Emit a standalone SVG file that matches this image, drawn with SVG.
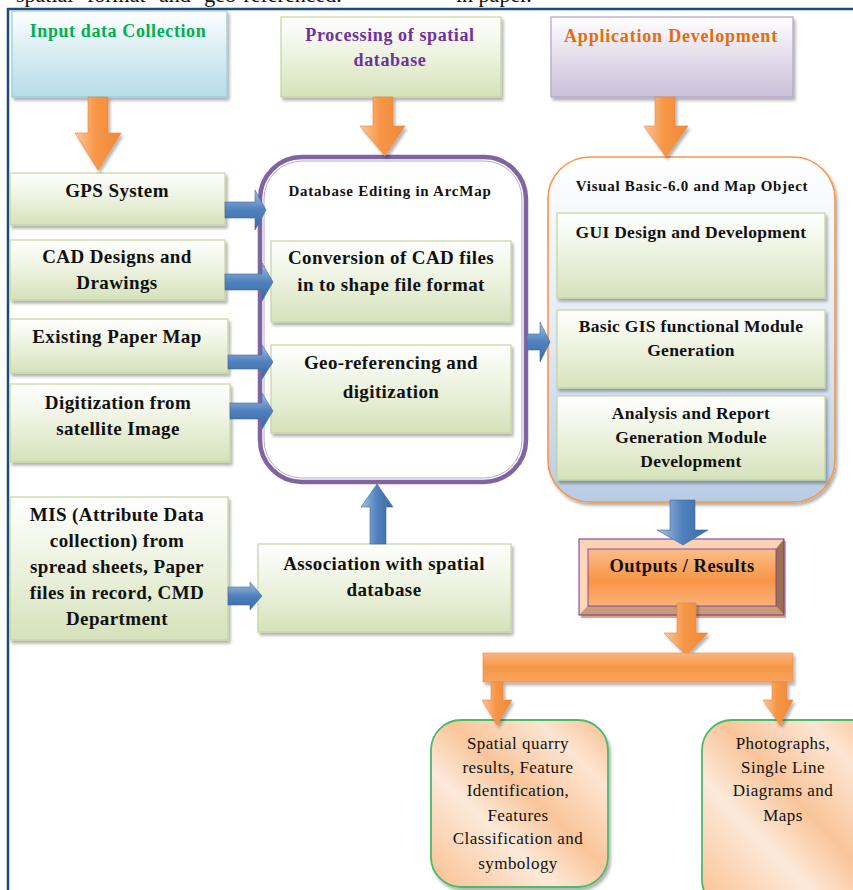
<svg xmlns="http://www.w3.org/2000/svg" width="853" height="890" viewBox="0 0 853 890">
<defs>
<linearGradient id="gGreen" x1="0" y1="0" x2="0" y2="1">
<stop offset="0" stop-color="#ffffff"/><stop offset="0.45" stop-color="#eef3e1"/><stop offset="1" stop-color="#d5e2bb"/>
</linearGradient>
<linearGradient id="gBlueHead" x1="0" y1="0" x2="0" y2="1">
<stop offset="0" stop-color="#ffffff"/><stop offset="0.45" stop-color="#dbeef4"/><stop offset="1" stop-color="#b6dde8"/>
</linearGradient>
<linearGradient id="gLav" x1="0" y1="0" x2="0" y2="1">
<stop offset="0" stop-color="#ffffff"/><stop offset="0.45" stop-color="#e6e0ec"/><stop offset="1" stop-color="#cbbfd9"/>
</linearGradient>
<linearGradient id="gApp" x1="0" y1="0" x2="0" y2="1">
<stop offset="0" stop-color="#ffffff"/><stop offset="0.5" stop-color="#e3ebf5"/><stop offset="1" stop-color="#b8cce4"/>
</linearGradient>
<linearGradient id="gBlueArr" x1="0" y1="0" x2="0" y2="1">
<stop offset="0" stop-color="#a7c0e0"/><stop offset="0.5" stop-color="#4f81bd"/><stop offset="1" stop-color="#3a6aa5"/>
</linearGradient>
<linearGradient id="gBlueArrV" x1="0" y1="0" x2="1" y2="0">
<stop offset="0" stop-color="#a7c0e0"/><stop offset="0.5" stop-color="#4f81bd"/><stop offset="1" stop-color="#3a6aa5"/>
</linearGradient>
<linearGradient id="gOrArr" x1="0" y1="0" x2="1" y2="0">
<stop offset="0" stop-color="#fbc89a"/><stop offset="0.45" stop-color="#f79646"/><stop offset="1" stop-color="#f0893a"/>
</linearGradient>
<linearGradient id="gBar" x1="0" y1="0" x2="0" y2="1">
<stop offset="0" stop-color="#fbb57e"/><stop offset="0.5" stop-color="#f79646"/><stop offset="1" stop-color="#f8a462"/>
</linearGradient>
<linearGradient id="gFace" x1="0" y1="0" x2="0" y2="1">
<stop offset="0" stop-color="#fbbd8a"/><stop offset="0.55" stop-color="#f79646"/><stop offset="1" stop-color="#f9b27a"/>
</linearGradient>
<linearGradient id="gOut" x1="0" y1="1" x2="1" y2="0">
<stop offset="0" stop-color="#fac090"/><stop offset="0.35" stop-color="#fde9d9"/><stop offset="0.55" stop-color="#f9c59a"/><stop offset="0.8" stop-color="#fde5d2"/><stop offset="1" stop-color="#f9bf8f"/>
</linearGradient>
<filter id="sh" x="-10%" y="-10%" width="130%" height="130%">
<feDropShadow dx="2" dy="3" stdDeviation="1.5" flood-color="#000" flood-opacity="0.3"/>
</filter>
</defs>
<style>
.b{font-family:"Liberation Serif",serif;font-weight:bold;text-anchor:middle;fill:#111}
.r{font-family:"Liberation Serif",serif;text-anchor:middle;fill:#111;font-size:17px;letter-spacing:0.45px}
.t18{font-size:19px;letter-spacing:0.4px}
.t17{font-size:17.5px;letter-spacing:0.3px}
.hd{font-size:18px;letter-spacing:0.6px}
.t14{font-size:15px;letter-spacing:0.75px}
.gbox{fill:url(#gGreen);stroke:#c3d69b;stroke-width:1.2;filter:url(#sh)}
.barr{fill:url(#gBlueArr);stroke:#3d6aa0;stroke-width:0.6}
.barrv{fill:url(#gBlueArrV);stroke:#3d6aa0;stroke-width:0.6}
.oarr{fill:url(#gOrArr);stroke:#e9843a;stroke-width:0.6;filter:url(#sh)}
</style>

<text x="16" y="2" style="font-family:'Liberation Serif',serif;font-size:22px;word-spacing:8px;fill:#111">spatial format and geo-referenced.</text>
<text x="456" y="2" style="font-family:'Liberation Serif',serif;font-size:22px;fill:#111">in paper.</text>

<g id="frame">
<path d="M8 890 V9 H853" fill="none" stroke="#1f497d" stroke-width="2.5"/>
</g>

<g id="hdr-input">
<rect x="12" y="11" width="215" height="86" fill="url(#gBlueHead)" stroke="#93cddd" stroke-width="1.2" filter="url(#sh)"/>
<text class="b hd" x="118" y="37" style="fill:#00b050">Input data Collection</text>
</g>
<g id="hdr-proc">
<rect x="281" y="17" width="220" height="80" fill="url(#gGreen)" stroke="#c3d69b" stroke-width="1.2" filter="url(#sh)"/>
<text class="b hd" x="390" y="41" style="fill:#7030a0">Processing of spatial</text>
<text class="b hd" x="390" y="66" style="fill:#7030a0">database</text>
</g>
<g id="hdr-app">
<rect x="551" y="17" width="242" height="80" fill="url(#gLav)" stroke="#b3a2c7" stroke-width="1.2" filter="url(#sh)"/>
<text class="b hd" x="671" y="42" style="fill:#e46c0a;letter-spacing:0.8px">Application Development</text>
</g>

<g id="gps"><rect class="gbox" x="10" y="173" width="215" height="52"/>
<text class="b t18" x="117" y="197">GPS System</text></g>
<g id="cad"><rect class="gbox" x="10" y="240" width="215" height="60"/>
<text class="b t18" x="117" y="263">CAD Designs and</text>
<text class="b t18" x="117" y="289">Drawings</text></g>
<g id="paper"><rect class="gbox" x="10" y="319" width="218" height="54"/>
<text class="b t18" x="117" y="343">Existing Paper Map</text></g>
<g id="digit"><rect class="gbox" x="10" y="384" width="220" height="78"/>
<text class="b t18" x="118" y="409">Digitization from</text>
<text class="b t18" x="118" y="435">satellite Image</text></g>
<g id="mis"><rect class="gbox" x="10" y="497" width="218" height="143"/>
<text class="b t18" x="117" y="521">MIS (Attribute Data</text>
<text class="b t18" x="117" y="547">collection) from</text>
<text class="b t18" x="117" y="573">spread sheets, Paper</text>
<text class="b t18" x="117" y="599">files in record, CMD</text>
<text class="b t18" x="117" y="625">Department</text></g>

<g id="dbedit">
<rect x="260" y="157" width="266" height="325" rx="42" fill="#ffffff" stroke="#8064a2" stroke-width="4.5"/>
<rect x="264" y="161" width="258" height="317" rx="38" fill="none" stroke="#b7a6cc" stroke-width="1"/>
<text class="b t14" x="390" y="196">Database Editing in ArcMap</text>
</g>
<g id="conv"><rect class="gbox" x="271" y="241" width="240" height="81"/>
<text class="b t18" x="391" y="264">Conversion of CAD files</text>
<text class="b t18" x="391" y="291">in to shape file format</text></g>
<g id="georef"><rect class="gbox" x="271" y="345" width="240" height="88"/>
<text class="b t18" x="391" y="369">Geo-referencing and</text>
<text class="b t18" x="391" y="398">digitization</text></g>
<g id="assoc"><rect class="gbox" x="258" y="544" width="253" height="88"/>
<text class="b t18" x="384" y="570">Association with spatial</text>
<text class="b t18" x="384" y="596">database</text></g>

<g id="vb">
<rect x="548" y="157" width="287" height="345" rx="42" fill="url(#gApp)" stroke="#f79646" stroke-width="1.6" filter="url(#sh)"/>
<text class="b t14" x="692" y="191" style="letter-spacing:0.7px">Visual Basic-6.0 and Map Object</text>
</g>
<g id="gui"><rect class="gbox" x="557" y="213" width="268" height="85"/>
<text class="b t17" x="691" y="238">GUI Design and Development</text></g>
<g id="basic"><rect class="gbox" x="557" y="310" width="268" height="78"/>
<text class="b t17" x="691" y="332">Basic GIS functional Module</text>
<text class="b t17" x="691" y="356">Generation</text></g>
<g id="analysis"><rect class="gbox" x="557" y="396" width="268" height="84"/>
<text class="b t17" x="691" y="419">Analysis and Report</text>
<text class="b t17" x="691" y="443">Generation Module</text>
<text class="b t17" x="691" y="467">Development</text></g>

<g id="outputs">
<rect x="581" y="541" width="205" height="77" fill="#c55a11" opacity="0.55"/>
<polygon points="579,539 784,539 776,549 588,549" fill="#fcd3b2"/>
<polygon points="579,539 588,549 588,606 579,615" fill="#fcd6b8"/>
<polygon points="784,539 784,615 776,606 776,549" fill="#9c7052"/>
<polygon points="579,615 784,615 776,606 588,606" fill="#cb9b78"/>
<rect x="588" y="549" width="188" height="57" fill="url(#gFace)"/>
<rect x="579" y="539" width="205" height="76" fill="none" stroke="#7030a0" stroke-width="1"/>
<rect x="588" y="549" width="188" height="57" fill="none" stroke="#7030a0" stroke-width="0.8"/>
<text class="b" x="682" y="572" style="font-size:18.5px;letter-spacing:0.5px">Outputs / Results</text>
</g>

<g id="spatial-out">
<rect x="431" y="720" width="177" height="167" rx="30" fill="url(#gOut)" stroke="#4bbb6b" stroke-width="1.8" filter="url(#sh)"/>
<text class="r" x="518" y="749">Spatial quarry</text>
<text class="r" x="518" y="773">results, Feature</text>
<text class="r" x="518" y="796">Identification,</text>
<text class="r" x="518" y="821">Features</text>
<text class="r" x="518" y="844">Classification and</text>
<text class="r" x="518" y="869">symbology</text>
</g>
<g id="photo-out">
<rect x="702" y="720" width="180" height="190" rx="30" fill="url(#gOut)" stroke="#4bbb6b" stroke-width="1.8"/>
<text class="r" x="783" y="749">Photographs,</text>
<text class="r" x="783" y="773">Single Line</text>
<text class="r" x="783" y="796">Diagrams and</text>
<text class="r" x="783" y="821">Maps</text>
</g>

<g id="connectors">
<path class="oarr" d="M88 97 H108 V133 H121 L98 170 L75 133 H88 Z"/>
<path class="oarr" d="M373 97 H393 V126 H405 L385 156 L360 126 H373 Z"/>
<path class="oarr" d="M655 97 H675 V126 H688 L666 157 L644 126 H655 Z"/>
<path class="barr" d="M225 202 H255 V190 L266 210 L255 230 V218 H225 Z"/>
<path class="barr" d="M225 274 H262 V263 L273 282 L262 301 V290 H225 Z"/>
<path class="barr" d="M228 355 H262 V345 L273 362 L262 379 V369 H228 Z"/>
<path class="barr" d="M230 403 H262 V393 L273 411 L262 429 V419 H230 Z"/>
<path class="barr" d="M228 587 H250 V582 L262 596 L250 610 V605 H228 Z"/>
<path class="barr" d="M527 334 H540 V322 L550 342 L540 362 V350 H527 Z"/>
<path class="barrv" d="M370 544 V507 H361 L377 484 L393 507 H386 V544 Z"/>
<path class="barrv" d="M670 500 H695 V530 H708 L683 545 L657 530 H670 Z"/>
<path class="oarr" d="M677 603 H696 V633 H708 L686 655 L664 633 H677 Z"/>
<rect x="483" y="653" width="310" height="29" fill="url(#gBar)" stroke="#f0893a" stroke-width="0.6" filter="url(#sh)"/>
<path class="oarr" d="M491 682 H503 V700 H512 L497 725 L482 700 H491 Z"/>
<path class="oarr" d="M772 682 H787 V700 H793 L780 725 L763 700 H772 Z"/>
</g>
</svg>
